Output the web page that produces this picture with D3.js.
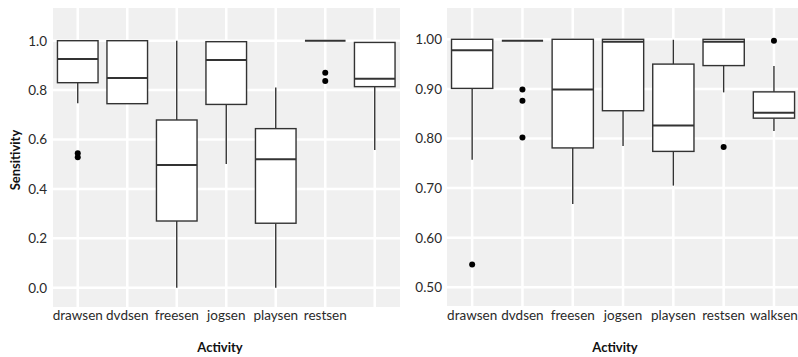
<!DOCTYPE html>
<html><head><meta charset="utf-8">
<script src="https://cdn.jsdelivr.net/npm/d3@7"></script>
<style>body{margin:0;background:#fff}svg{display:block}</style>
</head><body>
<svg id="c" width="798" height="357"></svg>
<script>
// ---- data ----
const categories = ["drawsen","dvdsen","freesen","jogsen","playsen","restsen","walksen"];
const leftTickLabels = ["drawsen","dvdsen","freesen","jogsen","playsen","restsen",""];
const rightTickLabels = ["drawsen","dvdsen","freesen","jogsen","playsen","restsen","walksen"];
const leftYTicks = [0.0,0.2,0.4,0.6,0.8,1.0];
const rightYTicks = [0.5,0.6,0.7,0.8,0.9,1.0];

// left panel (whisker low, q1, median, q3, whisker high)
const leftLow    = [0.747, 0.745, 0.0,   0.501, 0.0,   1.0, 0.557];
const leftQ1     = [0.830, 0.745, 0.270, 0.742, 0.261, 1.0, 0.814];
const leftMedian = [0.926, 0.849, 0.497, 0.922, 0.520, 1.0, 0.846];
const leftQ3     = [1.0,   1.0,   0.679, 0.996, 0.644, 1.0, 0.993];
const leftHigh   = [1.0,   1.0,   1.0,   0.996, 0.811, 1.0, 0.993];
const leftOutliers = [[0.544,0.528],[],[],[],[],[0.870,0.837],[]];

// right panel
const rightLow    = [0.757, 0.997, 0.668, 0.785, 0.705, 0.893, 0.815];
const rightQ1     = [0.901, 0.997, 0.781, 0.856, 0.774, 0.947, 0.841];
const rightMedian = [0.978, 0.997, 0.899, 0.995, 0.826, 0.995, 0.852];
const rightQ3     = [1.0,   0.997, 1.0,   1.0,   0.950, 1.0,   0.894];
const rightHigh   = [1.0,   0.997, 1.0,   1.0,   0.999, 1.0,   0.946];
const rightOutliers = [[0.546],[0.899,0.876,0.802],[],[],[],[0.783],[0.997]];

const svg = d3.select("#c");
const FONT = "Lato, 'Open Sans', sans-serif";
const TXT = "#2a2a2a";

function panel(opt){
  const g = svg.append("g");
  const x = d3.scaleBand().domain(categories).range([opt.x0, opt.x0 + opt.step*categories.length]).padding(0);
  const y = d3.scaleLinear().domain(opt.domain).range(opt.yrange);
  const clipId = "clip"+opt.id;
  svg.append("clipPath").attr("id", clipId).append("rect")
    .attr("x", opt.px0).attr("y", opt.py0).attr("width", opt.px1-opt.px0).attr("height", opt.py1-opt.py0);
  const pg = g.append("g").attr("clip-path", `url(#${clipId})`);
  pg.append("rect").attr("x", opt.px0).attr("y", opt.py0).attr("width", opt.px1-opt.px0).attr("height", opt.py1-opt.py0).attr("fill", "#f0f0f0");
  // grid
  pg.selectAll(".hg").data(opt.yticks).join("line")
    .attr("x1", opt.px0).attr("x2", opt.px1).attr("y1", d=>y(d)).attr("y2", d=>y(d))
    .attr("stroke", "#fff").attr("stroke-width", 2.5);
  pg.selectAll(".vg").data(categories).join("line")
    .attr("x1", d=>x(d)+x.bandwidth()/2).attr("x2", d=>x(d)+x.bandwidth()/2)
    .attr("y1", opt.py0).attr("y2", opt.py1)
    .attr("stroke", "#fff").attr("stroke-width", 2.5);
  const bw = x.bandwidth()*0.82;
  categories.forEach((c,i)=>{
    const cx = x(c)+x.bandwidth()/2;
    const L = opt.low[i], Q1 = opt.q1[i], M = opt.med[i], Q3 = opt.q3[i], H = opt.high[i];
    const stroke = "#333";
    if (H > Q3) pg.append("line").attr("x1",cx).attr("x2",cx).attr("y1",y(Q3)).attr("y2",y(H)).attr("stroke",stroke).attr("stroke-width",1.4);
    if (L < Q1) pg.append("line").attr("x1",cx).attr("x2",cx).attr("y1",y(Q1)).attr("y2",y(L)).attr("stroke",stroke).attr("stroke-width",1.4);
    pg.append("rect").attr("x",cx-bw/2).attr("width",bw).attr("y",y(Q3)).attr("height",Math.max(0,y(Q1)-y(Q3)))
      .attr("fill","#fff").attr("stroke",stroke).attr("stroke-width",1.4);
    pg.append("line").attr("x1",cx-bw/2).attr("x2",cx+bw/2).attr("y1",y(M)).attr("y2",y(M)).attr("stroke",stroke).attr("stroke-width",2);
    opt.out[i].forEach(v=>{
      pg.append("circle").attr("cx",cx).attr("cy",y(v)).attr("r",3).attr("fill","#000");
    });
  });
  // y tick labels
  const yAxis = d3.axisLeft(y).tickValues(opt.yticks).tickFormat(d3.format(opt.fmt)).tickSize(0).tickPadding(0);
  const ya = g.append("g").attr("transform", `translate(${opt.ylabX},0)`).call(yAxis);
  ya.select(".domain").remove();
  ya.selectAll("text").attr("font-family",FONT).attr("font-size",13.5).attr("fill",TXT);
  // x tick labels
  const xAxis = d3.axisBottom(x).tickFormat((d,i)=>opt.xlabels[i]).tickSize(0).tickPadding(0);
  const xa = g.append("g").attr("transform", `translate(0,${opt.xlabY})`).call(xAxis);
  xa.select(".domain").remove();
  xa.selectAll("text").attr("font-family",FONT).attr("font-size",13.5).attr("fill",TXT);
  // axis title
  g.append("text").attr("x", opt.titleX).attr("y", 352).attr("text-anchor","middle")
    .attr("font-family",FONT).attr("font-weight","bold").attr("font-size",13).attr("fill","#111").text("Activity");
}

panel({id:"L", x0:53, step:49.5, domain:[0,1], yrange:[287.7,40.7], px0:53, px1:400, py0:8, py1:307,
  yticks:leftYTicks, fmt:".1f", ylabX:47, xlabY:310.5, xlabels:leftTickLabels, titleX:220,
  low:leftLow, q1:leftQ1, med:leftMedian, q3:leftQ3, high:leftHigh, out:leftOutliers});
panel({id:"R", x0:447, step:50.3, domain:[0.5,1.0], yrange:[287.3,39.3], px0:447, px1:798, py0:8, py1:306,
  yticks:rightYTicks, fmt:".2f", ylabX:442, xlabY:310.5, xlabels:rightTickLabels, titleX:615,
  low:rightLow, q1:rightQ1, med:rightMedian, q3:rightQ3, high:rightHigh, out:rightOutliers});

svg.append("text").attr("transform","translate(20,160) rotate(-90)").attr("text-anchor","middle")
  .attr("font-family",FONT).attr("font-weight","bold").attr("font-size",13).attr("fill","#111").text("Sensitivity");
</script>
</body></html>
